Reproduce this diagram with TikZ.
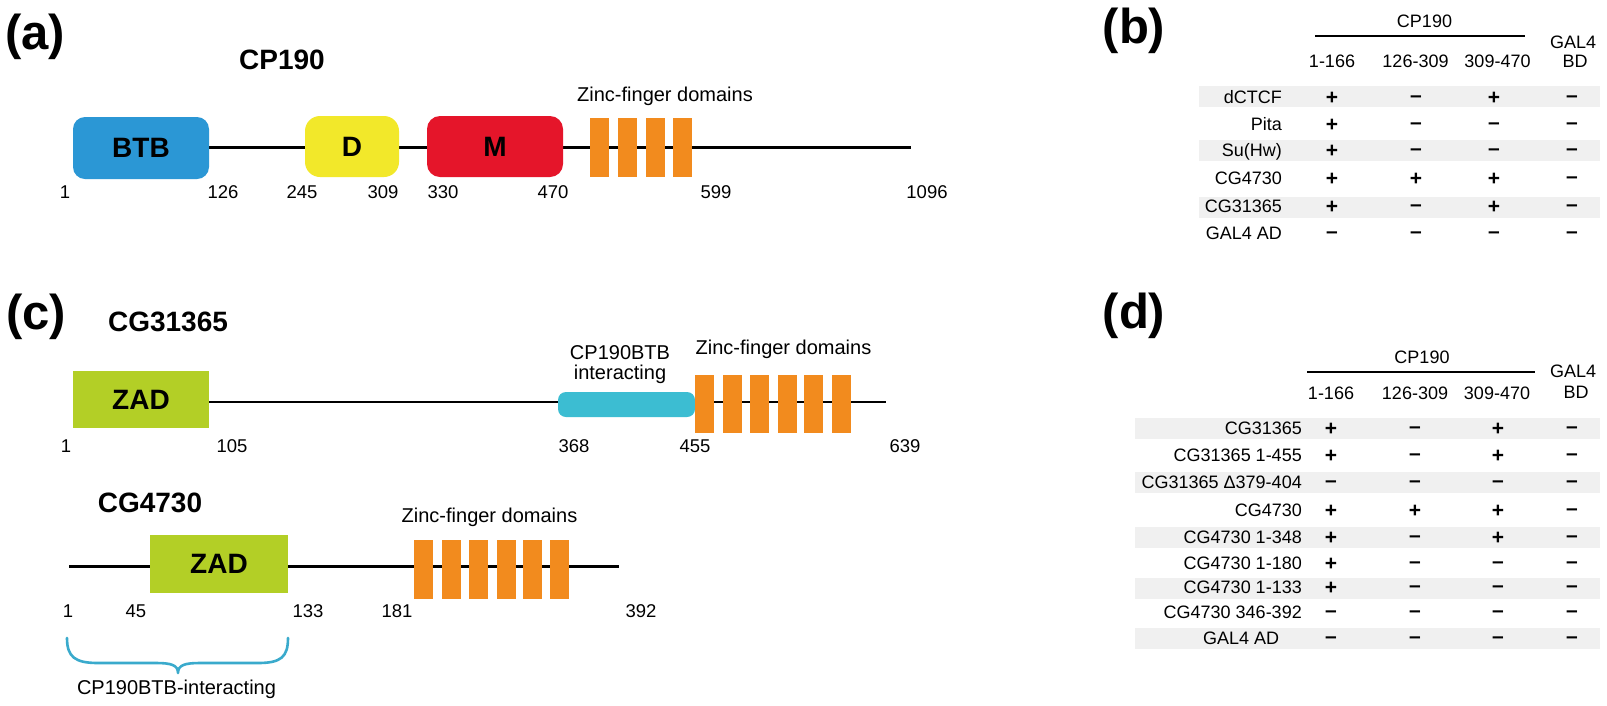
\documentclass[tikz,border=0pt]{standalone}
\usepackage{fontspec}
\setmainfont{Liberation Sans}
\definecolor{btbblue}{HTML}{2B97D5}
\definecolor{dyellow}{HTML}{F2E82A}
\definecolor{mred}{HTML}{E5152A}
\definecolor{zforange}{HTML}{F28B1E}
\definecolor{zadgreen}{HTML}{B3CF26}
\definecolor{cybox}{HTML}{3CBDD2}
\definecolor{bracecol}{HTML}{3AAACC}
\definecolor{bandgray}{HTML}{F0F0F0}
\newcommand{\tmark}[4]{%
  \if#4p\node[mk] (#1) at (#2,#3+7.5) {+};\else\node[mk] (#1) at (#2,#3+5.6) {--};\fi}
\tikzset{
  panel/.style={font=\fontsize{49}{55}\selectfont\bfseries, inner sep=0pt},
  title/.style={font=\fontsize{28}{32}\selectfont\bfseries, inner sep=0pt},
  dom/.style={inner sep=0pt, outer sep=0pt, font=\fontsize{28}{32}\selectfont\bfseries},
  zf/.style={fill=zforange, minimum width=19pt, inner sep=0pt, outer sep=0pt},
  num/.style={font=\fontsize{18.5}{22}\selectfont, inner sep=0pt, anchor=base},
  lab/.style={font=\fontsize{20}{24}\selectfont, inner sep=0pt, anchor=base},
  backbone/.style={line width=2.6pt, black},
  tab/.style={font=\fontsize{18}{22}\selectfont, inner sep=0pt, anchor=base},
  mk/.style={font=\fontsize{21}{24}\selectfont\bfseries, inner sep=0pt, anchor=base},
  band/.style={fill=bandgray, draw=none},
  hline/.style={line width=2pt, black},
}
\begin{document}
\begin{tikzpicture}[x=1pt,y=-1pt]
\useasboundingbox[fill=white] (0,0) rectangle (1607,705);

% ================= (a) =================
\node[panel] (pa) at (35,37) {(a)};
\node[title] (tcp190) at (282,60) {CP190};
\coordinate (a-s) at (141,147.5);
\coordinate (a-e) at (911,147.5);
\draw[backbone] (a-s) -- (a-e);
\node[dom, fill=btbblue, rounded corners=12pt, minimum width=136pt, minimum height=62pt] (btb) at (141,148) {BTB};
\node[dom, fill=dyellow, rounded corners=15pt, minimum width=94pt, minimum height=61pt] (dd) at (352,146.5) {D};
\node[dom, fill=mred, rounded corners=13pt, minimum width=136pt, minimum height=61pt] (mm) at (495,146.5) {M};
\foreach \x [count=\i] in {599.5,627.5,655,682.5}
  \node[zf, minimum height=59pt] (a-zf\i) at (\x,147.5) {};
\node[lab] (a-zfl) at (665,101.5) {Zinc-finger domains};
\foreach \x/\t [count=\i] in {65/1,223/126,302/245,383/309,443/330,553/470,716/599,927/1096}
  \node[num] (a-n\i) at (\x,198) {\t};

% ================= (c) CG31365 =================
\node[panel] (pc) at (36,317) {(c)};
\node[title] (tcg31) at (168,322) {CG31365};
\coordinate (c-s) at (141,402);
\coordinate (c-e) at (886,402);
\draw[backbone] (c-s) -- (c-e);
\node[dom, fill=zadgreen, minimum width=136pt, minimum height=57pt] (zad1) at (141,399.5) {ZAD};
\node[dom, fill=cybox, rounded corners=8pt, minimum width=137pt, minimum height=25pt] (cyan) at (626.5,404.5) {};
\node[lab] (cyl1) at (620,359.5) {CP190BTB};
\node[lab] (cyl2) at (620,379) {interacting};
\foreach \x [count=\i] in {704,732.5,759.5,787.5,813.5,841}
  \node[zf, minimum height=58pt] (c-zf\i) at (\x,404) {};
\node[lab] (c-zfl) at (783.5,354.5) {Zinc-finger domains};
\foreach \x/\t [count=\i] in {66/1,232/105,574/368,695/455,905/639}
  \node[num] (c-n\i) at (\x,452) {\t};

% ================= (c) CG4730 =================
\node[title] (tcg47) at (150,503) {CG4730};
\coordinate (g-s) at (69,566.5);
\coordinate (g-e) at (619,566.5);
\draw[backbone] (g-s) -- (g-e);
\node[dom, fill=zadgreen, minimum width=138pt, minimum height=58pt] (zad2) at (219,564) {ZAD};
\foreach \x [count=\i] in {423.5,451,478.5,506,532,559.5}
  \node[zf, minimum height=59pt] (g-zf\i) at (\x,569.5) {};
\node[lab] (g-zfl) at (489.5,522.5) {Zinc-finger domains};
\foreach \x/\t [count=\i] in {68/1,136/45,308/133,397/181,641/392}
  \node[num] (g-n\i) at (\x,617) {\t};
\coordinate (br-l) at (67,638);
\coordinate (br-r) at (288,638);
\coordinate (br-m) at (178,673);
\draw[bracecol, line width=2.6pt, line cap=round, line join=round]
  (br-l) .. controls (67,657) and (75,663) .. (98,663) -- (156,663)
  .. controls (171,663) and (178,665) .. (br-m)
  .. controls (178,665) and (185,663) .. (200,663) -- (258,663)
  .. controls (281,663) and (288,657) .. (br-r);
\node[lab] (brl) at (176.5,694.5) {CP190BTB-interacting};

% ================= (b) table =================
\node[panel] (pb) at (1134,31) {(b)};
\fill[band] (1199,86) rectangle (1600,107);
\fill[band] (1199,140) rectangle (1600,161);
\fill[band] (1199,197) rectangle (1600,218);
\node[tab] (b-cp) at (1424.5,27) {CP190};
\coordinate (b-hl) at (1315,36);
\coordinate (b-hr) at (1525,36);
\draw[hline] (b-hl) -- (b-hr);
\node[tab] (b-g1) at (1573,48) {GAL4};
\node[tab] (b-g2) at (1575,67) {BD};
\node[tab] (b-h1) at (1332,67) {1-166};
\node[tab] (b-h2) at (1415.5,67) {126-309};
\node[tab] (b-h3) at (1497.5,67) {309-470};
\foreach \y/\lab/\a/\b/\c/\d [count=\i] in {
   97/dCTCF/p/m/p/m, 124/Pita/p/m/m/m, 150/Su(Hw)/p/m/m/m,
   178/CG4730/p/p/p/m, 206/CG31365/p/m/p/m, 233/GAL4 AD/m/m/m/m}{
  \node[tab, anchor=base east] (b-l\i) at (1282,\y+6.5) {\lab};
  \tmark{b-\i-1}{1332}{\y}{\a}
  \tmark{b-\i-2}{1416}{\y}{\b}
  \tmark{b-\i-3}{1494}{\y}{\c}
  \tmark{b-\i-4}{1572}{\y}{\d}
}

% ================= (d) table =================
\node[panel] (pd) at (1134,316) {(d)};
\foreach \y [count=\i] in {428,482.5,537,588.5,638.5}
  \fill[band] (1135,\y-10.5) rectangle (1600,\y+10.5);
\node[tab] (d-cp) at (1422,363) {CP190};
\coordinate (d-hl) at (1307,372);
\coordinate (d-hr) at (1535,372);
\draw[hline] (d-hl) -- (d-hr);
\node[tab] (d-g1) at (1573,377) {GAL4};
\node[tab] (d-g2) at (1576,398) {BD};
\node[tab] (d-h1) at (1331,399) {1-166};
\node[tab] (d-h2) at (1415,399) {126-309};
\node[tab] (d-h3) at (1497,399) {309-470};
\foreach \y/\lab/\a/\b/\c/\d [count=\i] in {
   428/CG31365/p/m/p/m, 455/CG31365 1-455/p/m/p/m,
   482/CG31365 Δ379-404/m/m/m/m, 510/CG4730/p/p/p/m,
   537/CG4730 1-348/p/m/p/m, 563/CG4730 1-180/p/m/m/m,
   587/CG4730 1-133/p/m/m/m, 612/CG4730 346-392/m/m/m/m}{
  \node[tab, anchor=base east] (d-l\i) at (1302,\y+6.5) {\lab};
  \tmark{d-\i-1}{1331}{\y}{\a}
  \tmark{d-\i-2}{1415}{\y}{\b}
  \tmark{d-\i-3}{1498}{\y}{\c}
  \tmark{d-\i-4}{1572}{\y}{\d}
}
\node[tab, anchor=base west] (d-l9) at (1203,638+6.5) {GAL4 AD};
\tmark{d-9-1}{1331}{638}{m}
\tmark{d-9-2}{1415}{638}{m}
\tmark{d-9-3}{1498}{638}{m}
\tmark{d-9-4}{1572}{638}{m}
\end{tikzpicture}
\end{document}
